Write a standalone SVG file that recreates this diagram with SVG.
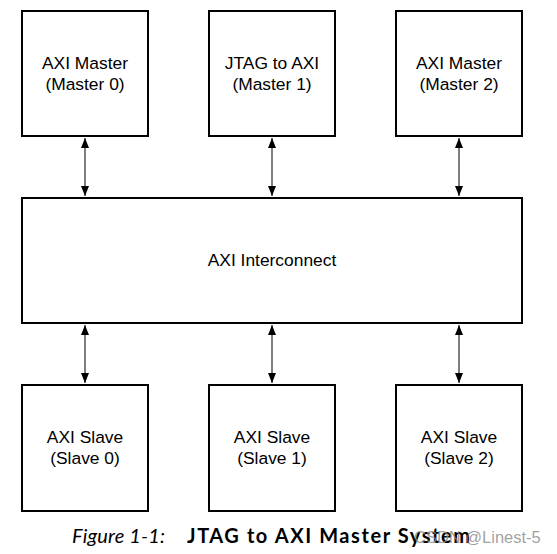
<svg xmlns="http://www.w3.org/2000/svg" width="557" height="554" viewBox="0 0 557 554">
<defs>
<marker id="ah" viewBox="0 0 10 10" refX="10" refY="5" markerWidth="10" markerHeight="10" markerUnits="userSpaceOnUse" orient="auto-start-reverse">
<path d="M0,1 L10,5 L0,9 Z" fill="#000"/>
</marker>
<style>
.box{fill:#fff;stroke:#000;stroke-width:2}
.t{font-family:"Liberation Sans",Arial,sans-serif;font-size:17.4px;fill:#000;text-anchor:middle}
.c{stroke:#555;stroke-width:1.5;fill:none}
</style>
</defs>
<rect width="557" height="554" fill="#fff"/>
<g id="master0"><rect class="box" x="22" y="11" width="126" height="125"/><text class="t" x="85" y="69">AXI Master</text><text class="t" x="85" y="90">(Master 0)</text></g>
<g id="master1"><rect class="box" x="209" y="11" width="126" height="125"/><text class="t" x="272" y="69">JTAG to AXI</text><text class="t" x="272" y="90">(Master 1)</text></g>
<g id="master2"><rect class="box" x="396" y="11" width="126" height="125"/><text class="t" x="459" y="69">AXI Master</text><text class="t" x="459" y="90">(Master 2)</text></g>
<g id="interconnect"><rect class="box" x="22" y="198" width="500" height="125"/><text class="t" x="272" y="266">AXI Interconnect</text></g>
<g id="slave0"><rect class="box" x="22" y="385" width="126" height="126"/><text class="t" x="85" y="443">AXI Slave</text><text class="t" x="85" y="464">(Slave 0)</text></g>
<g id="slave1"><rect class="box" x="209" y="385" width="126" height="126"/><text class="t" x="272" y="443">AXI Slave</text><text class="t" x="272" y="464">(Slave 1)</text></g>
<g id="slave2"><rect class="box" x="396" y="385" width="126" height="126"/><text class="t" x="459" y="443">AXI Slave</text><text class="t" x="459" y="464">(Slave 2)</text></g>
<g id="connectors">
<line class="c" x1="85" y1="138" x2="85" y2="196" marker-start="url(#ah)" marker-end="url(#ah)"/>
<line class="c" x1="272" y1="138" x2="272" y2="196" marker-start="url(#ah)" marker-end="url(#ah)"/>
<line class="c" x1="459" y1="138" x2="459" y2="196" marker-start="url(#ah)" marker-end="url(#ah)"/>
<line class="c" x1="85" y1="325" x2="85" y2="383" marker-start="url(#ah)" marker-end="url(#ah)"/>
<line class="c" x1="272" y1="325" x2="272" y2="383" marker-start="url(#ah)" marker-end="url(#ah)"/>
<line class="c" x1="459" y1="325" x2="459" y2="383" marker-start="url(#ah)" marker-end="url(#ah)"/>
</g>
<g id="caption">
<text x="72" y="543" font-family="Lato,'Open Sans',sans-serif" font-size="20" font-style="italic" fill="#000" textLength="93" lengthAdjust="spacing">Figure 1-1:</text>
<text x="187" y="543" font-family="Lato,'Open Sans',sans-serif" font-size="20" font-weight="bold" fill="#000" textLength="283" lengthAdjust="spacing">JTAG to AXI Master System</text>
<text x="414" y="543" font-family="'Liberation Sans',Arial,sans-serif" font-size="16.5" fill="#888" fill-opacity="0.8">CSDN @Linest-5</text>
</g>
</svg>
